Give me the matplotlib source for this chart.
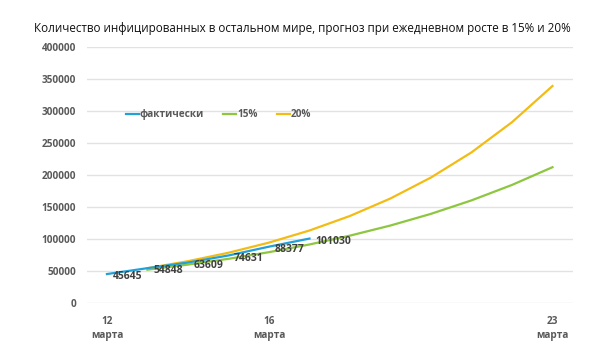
import matplotlib.pyplot as plt

plt.rcParams['font.family'] = ['Open Sans', 'DejaVu Sans']

# Data
days_actual = [12, 13, 14, 15, 16, 17]
actual = [45645, 54848, 63609, 74631, 88377, 101030]

days_forecast = [13, 14, 15, 16, 17, 18, 19, 20, 21, 22, 23]
growth_15 = [52500, 60400, 69400, 79800, 91800, 105600, 121400, 139600, 160600, 184700, 212400]
growth_20 = [54800, 65700, 78900, 94700, 113600, 136300, 163600, 196300, 235500, 282600, 339100]

tick_days = [12, 16, 23]
tick_labels = ['12\nмарта', '16\nмарта', '23\nмарта']
y_ticks = [0, 50000, 100000, 150000, 200000, 250000, 300000, 350000, 400000]

W, H = 610, 341
fig = plt.figure(figsize=(W / 100, H / 100), dpi=100)
ax = fig.add_axes([86.7 / W, 1 - 303.3 / H, (572.7 - 86.7) / W, (303.3 - 47) / H])

ax.plot(days_actual, actual, color='#22a0d8', lw=1.6, label='фактически', zorder=3)
ax.plot(days_forecast, growth_15, color='#8dc63f', lw=1.6, label='15%', zorder=2)
ax.plot(days_forecast, growth_20, color='#f2bc14', lw=1.6, label='20%', zorder=2)

for d, v in zip(days_actual, actual):
    ax.annotate(str(v), (d, v), xytext=(4, -2), textcoords='offset points',
                ha='left', va='center', fontsize=7.5, fontweight='bold', color='#404040', zorder=4)

ax.set_xlim(11.5, 23.5)
ax.set_ylim(0, 400000)
ax.set_yticks(y_ticks)
ax.set_yticklabels([str(t) for t in y_ticks])
ax.set_xticks(tick_days)
ax.set_xticklabels(tick_labels, linespacing=1.35)
ax.tick_params(axis='both', length=0, labelsize=7.2, labelcolor='#595959')
ax.tick_params(axis='y', pad=7.5)
ax.tick_params(axis='x', pad=9)
for lab in ax.get_xticklabels() + ax.get_yticklabels():
    lab.set_fontweight('bold')

ax.grid(axis='y', color='#e2e2e2', lw=1)
ax.set_axisbelow(True)
for s in ax.spines.values():
    s.set_visible(False)

fig.text(0.496, 1 - 28.3 / H, 'Количество инфицированных в остальном мире, прогноз при ежедневном росте в 15% и 20%',
         ha='center', va='center', fontsize=8.4, color='#111111')

leg = fig.legend(loc='center left', bbox_to_anchor=(121 / W, 1 - 115 / H), ncol=3, frameon=False,
                 borderpad=0, handlelength=1.3, handletextpad=0.1, columnspacing=1.9,
                 prop={'size': 7.2, 'weight': 'bold'})
for t in leg.get_texts():
    t.set_color('#595959')

fig.savefig('out.png', dpi=100)
